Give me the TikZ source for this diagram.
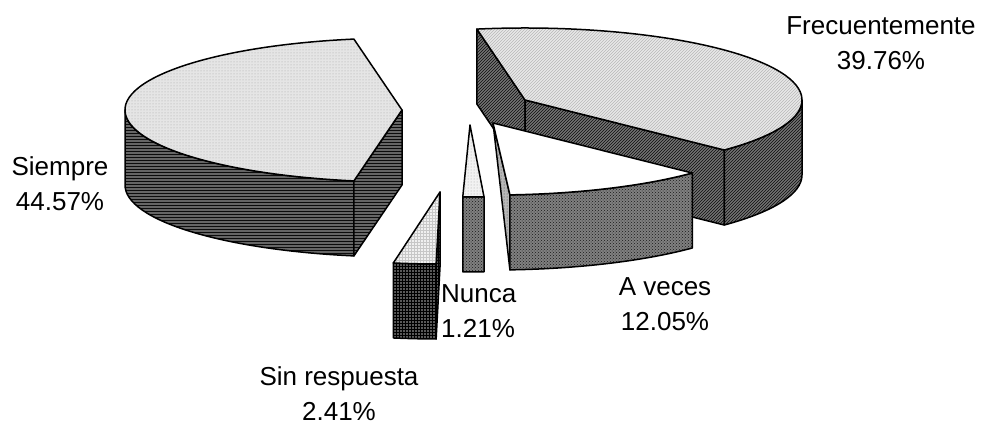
\documentclass[tikz,border=0pt]{standalone}
\usepackage{fontspec}
\setmainfont{Liberation Sans}
\usepackage{tikz}
\usetikzlibrary{patterns}
\begin{document}
\begin{tikzpicture}[x=1pt, y=1pt]
     \tikzset{slice/.style={draw, line width=1.5pt, line join=round}}
     \tikzset{rim/.style={x radius=277, y radius=72}}
     \tikzset{pielabel/.style={inner sep=0pt, align=center, font=\fontsize{26}{35}\selectfont}}
     \tikzset{topsiempre/.style={preaction={fill=black!10}, pattern=dots, pattern color=black!35}}
     \tikzset{sidesiempre/.style={preaction={fill=black!60}, pattern=horizontal lines, pattern color=black!95}}
     \tikzset{topfrec/.style={preaction={fill=black!9}, pattern=north east lines, pattern color=black!28}}
     \tikzset{sidefrec/.style={preaction={fill=black!55}, pattern=north east lines, pattern color=black!95}}
     \tikzset{sideveces/.style={preaction={fill=black!50}, pattern=crosshatch dots, pattern color=black!90}}
     \tikzset{stripveces/.style={preaction={fill=black!28}, pattern=dots, pattern color=black!75}}
     \tikzset{topnunca/.style={preaction={fill=black!5}, pattern=dots, pattern color=black!35}}
     \tikzset{sidenunca/.style={preaction={fill=black!50}, pattern=crosshatch dots, pattern color=black!90}}
     \tikzset{topsin/.style={preaction={fill=black!6}, pattern=grid, pattern color=black!22}}
     \tikzset{sidesin/.style={preaction={fill=black!65}, pattern=grid, pattern color=black!100}}
     \useasboundingbox (0,0) rectangle (982,425);

     \coordinate (s0) at (402,315);
     \coordinate (f0) at (525,325);
     \coordinate (a0) at (493,302);
     \coordinate (n0) at (470,300);
     \coordinate (r0) at (440,233);

     % Siempre
     \path [slice, sidesiempre] (s0) ++(180:277 and 72) arc[rim, start angle=180, end angle=260] -- ++(0,-75) arc[rim, start angle=260, end angle=180] -- cycle;
     \path [slice, sidesiempre] (s0) -- ++(260:277 and 72) -- ++(0,-75) -- ++(80:277 and 72) -- cycle;
     \path [slice, topsiempre] (s0) -- ++(100:277 and 72) arc[rim, start angle=100, end angle=260] -- cycle;

     % Frecuentemente
     \path [slice, sidefrec] (f0) -- ++(100:277 and 72) -- ++(0,-75) -- ++(280:277 and 72) -- cycle;
     \path [slice, sidefrec] (f0) -- ++(-44:277 and 72) -- ++(0,-75) -- ++(136:277 and 72) -- cycle;
     \path [slice, sidefrec] (f0) ++(-44:277 and 72) arc[rim, start angle=-44, end angle=0] -- ++(0,-75) arc[rim, start angle=0, end angle=-44] -- cycle;
     \path [slice, topfrec] (f0) -- ++(-44:277 and 72) arc[rim, start angle=-44, end angle=100] -- cycle;

     % A veces
     \path [slice, stripveces] (a0) -- ++(273.5:277 and 72) -- ++(0,-75) -- cycle;
     \path [slice, sideveces] (a0) ++(273.5:277 and 72) arc[rim, start angle=273.5, end angle=316] -- ++(0,-75) arc[rim, start angle=316, end angle=273.5] -- cycle;
     \path [slice, fill=white] (a0) -- ++(273.5:277 and 72) arc[rim, start angle=273.5, end angle=316] -- cycle;

     % Nunca
     \path [slice, sidenunca] (n0) ++(268.5:277 and 72) arc[rim, start angle=268.5, end angle=272.9] -- ++(0,-75) arc[rim, start angle=272.9, end angle=268.5] -- cycle;
     \path [slice, topnunca] (n0) -- ++(268.5:277 and 72) arc[rim, start angle=268.5, end angle=272.9] -- cycle;

     % Sin respuesta
     \path [slice, sidesin] (r0) -- ++(269.2:277 and 72) -- ++(0,-75) -- ++(89.2:277 and 72) -- cycle;
     \path [slice, sidesin] (r0) ++(260.3:277 and 72) arc[rim, start angle=260.3, end angle=269.2] -- ++(0,-75) arc[rim, start angle=269.2, end angle=260.3] -- cycle;
     \path [slice, topsin] (r0) -- ++(260.3:277 and 72) arc[rim, start angle=260.3, end angle=269.2] -- cycle;

     \node [pielabel] (lsiempre) at (60,241.5) {Siempre\\44.57\%};
     \node [pielabel] (lfrec) at (881,381.5) {Frecuentemente\\39.76\%};
     \node [pielabel] (lveces) at (665,120.5) {A veces\\12.05\%};
     \node [pielabel, align=left, anchor=west] (lnunca) at (441,113.5) {Nunca\\1.21\%};
     \node [pielabel] (lsin) at (339,31) {Sin respuesta\\2.41\%};
\end{tikzpicture}
\end{document}
